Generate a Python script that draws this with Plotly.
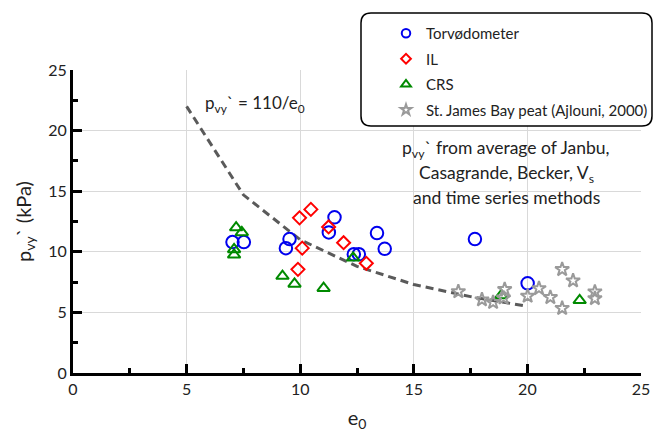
import plotly.graph_objects as go

# ---- data ----
torv_e0 = [7.02, 7.52, 9.37, 9.53, 11.26, 11.51, 12.36, 12.58, 13.38, 13.72, 17.69, 20.01]
torv_p = [10.8, 10.8, 10.3, 11.05, 11.6, 12.85, 9.8, 9.8, 11.55, 10.25, 11.05, 7.4]

il_e0 = [9.97, 10.47, 10.09, 9.90, 11.25, 11.91, 12.91]
il_p = [12.8, 13.5, 10.3, 8.55, 12.05, 10.75, 9.05]

crs_e0 = [7.18, 7.43, 7.09, 7.09, 9.22, 9.75, 11.03, 12.33, 18.85, 22.3]
crs_p = [12.0, 11.6, 10.2, 9.75, 8.0, 7.35, 7.0, 9.5, 6.4, 6.0]

sjb_e0 = [16.96, 18.0, 18.49, 19.0, 18.95, 20.01, 20.51, 21.01, 21.53, 22.01, 21.53, 22.97, 22.97]
sjb_p = [6.72, 6.05, 5.83, 6.9, 6.2, 6.35, 6.98, 6.24, 8.55, 7.62, 5.34, 6.7, 6.15]

curve_e0 = [5, 7.5, 10, 12.5, 15, 17.5, 20]
curve_p = [22.0, 14.7, 11.0, 8.8, 7.3, 6.3, 5.5]

series_names = ["Torvødometer", "IL", "CRS", "St. James Bay peat (Ajlouni, 2000)"]
x_ticks = [0, 5, 10, 15, 20, 25]
y_ticks = [0, 5, 10, 15, 20, 25]

note_lines = ["p<sub>vy</sub>` from average of Janbu,",
              "Casagrande, Becker, V<sub>s</sub>",
              "and time series methods"]

FONT = "Lato"
BLUE = "#0000EE"
RED = "#FF0000"
GREEN = "#008A00"
GREY = "#9A9A9A"

fig = go.Figure()

# trend curve
fig.add_trace(go.Scatter(x=curve_e0, y=curve_p, mode="lines",
                         line=dict(color="#5a5a5a", width=3, dash="8px,5px"),
                         showlegend=False, hoverinfo="skip"))

styles = [
    (torv_e0, torv_p, "circle-open", BLUE, 12.5, 8.5),
    (il_e0, il_p, "diamond-open", RED, 10, 7.5),
    (crs_e0, crs_p, "triangle-up-open", GREEN, 11, 8.5),
    (sjb_e0, sjb_p, "star-open", GREY, 10.5, 8),
]
for i, (xs, ys, sym, col, sz, lsz) in enumerate(styles):
    fig.add_trace(go.Scatter(x=xs, y=ys, mode="markers", name=series_names[i],
                             marker=dict(symbol=sym, size=sz, color=col, line=dict(width=2, color=col)),
                             showlegend=False))
for i, (xs, ys, sym, col, sz, lsz) in enumerate(styles):
    fig.add_trace(go.Scatter(x=[None], y=[None], mode="markers", name=series_names[i],
                             legendgroup=f"g{i}",
                             marker=dict(symbol=sym, size=lsz, color=col,
                                         line=dict(width=2, color=col))))

# plot area in px
L, R, T, B = 73, 641, 70, 373
W, H = 654, 432
pw, ph = R - L, B - T

def px2paper(px, py):
    return (px - L) / pw, (B - py) / ph

# rounded legend box
bx0, bx1, by0, by1 = 361, 652, 13, 126
r = 10
def P(px, py):
    x, y = px2paper(px, py)
    return f"{x:.5f},{y:.5f}"
path = (f"M {P(bx0 + r, by0)} L {P(bx1 - r, by0)} Q {P(bx1, by0)} {P(bx1, by0 + r)} "
        f"L {P(bx1, by1 - r)} Q {P(bx1, by1)} {P(bx1 - r, by1)} "
        f"L {P(bx0 + r, by1)} Q {P(bx0, by1)} {P(bx0, by1 - r)} "
        f"L {P(bx0, by0 + r)} Q {P(bx0, by0)} {P(bx0 + r, by0)} Z")
fig.add_shape(type="path", path=path, xref="paper", yref="paper",
              fillcolor="white", line=dict(color="black", width=1.5), layer="above")

lx, ly = px2paper(386, 17)

fig.update_layout(
    width=W, height=H,
    margin=dict(l=L, r=W - R, t=T, b=H - B, pad=0, autoexpand=False),
    paper_bgcolor="white", plot_bgcolor="white",
    font=dict(family=FONT, color="#222222"),
    legend=dict(x=lx, y=ly, xanchor="left", yanchor="top",
                bgcolor="rgba(0,0,0,0)", borderwidth=0,
                font=dict(size=15, family=FONT, color="#222222"),
                tracegroupgap=3, itemwidth=30),
    xaxis=dict(range=[0, 25], tickvals=x_ticks, ticks="inside", ticklen=9, tickwidth=3,
               tickcolor="black", showline=True, linewidth=3, linecolor="black",
               showgrid=True, gridcolor="#d9d9d9", gridwidth=1, zeroline=False,
               tickfont=dict(size=16, family=FONT, color="#222222"),
               minor=dict(ticks="inside", ticklen=5, tickwidth=3, tickcolor="black",
                          dtick=2.5, tick0=0, showgrid=False),
               title=dict(text="e<sub>0</sub>", font=dict(size=20, family=FONT, color="#222222"),
                          standoff=14)),
    yaxis=dict(range=[0, 25], tickvals=y_ticks, ticks="inside", ticklen=9, tickwidth=3,
               tickcolor="black", showline=True, linewidth=3, linecolor="black",
               showgrid=True, gridcolor="#d9d9d9", gridwidth=1, zeroline=False,
               tickfont=dict(size=16, family=FONT, color="#222222"),
               minor=dict(ticks="inside", ticklen=5, tickwidth=3, tickcolor="black",
                          dtick=2.5, tick0=0, showgrid=False),
               title=dict(text="p<sub>vy</sub>` (kPa)", font=dict(size=20, family=FONT, color="#222222"),
                          standoff=12)),
)

fig.add_annotation(x=5.73, y=22.2, xref="x", yref="y", xanchor="left", yanchor="middle",
                   text="p<sub>vy</sub>` = 110/e<sub>0</sub>", showarrow=False,
                   font=dict(size=17, family=FONT, color="#222222"))
note_y = [18.45, 16.4, 14.5]
for txt, yy in zip(note_lines, note_y):
    fig.add_annotation(x=19.07, y=yy, xref="x", yref="y", xanchor="center", yanchor="middle",
                       text=txt, showarrow=False,
                       font=dict(size=17.5, family=FONT, color="#222222"))

fig.write_html("out.html")
